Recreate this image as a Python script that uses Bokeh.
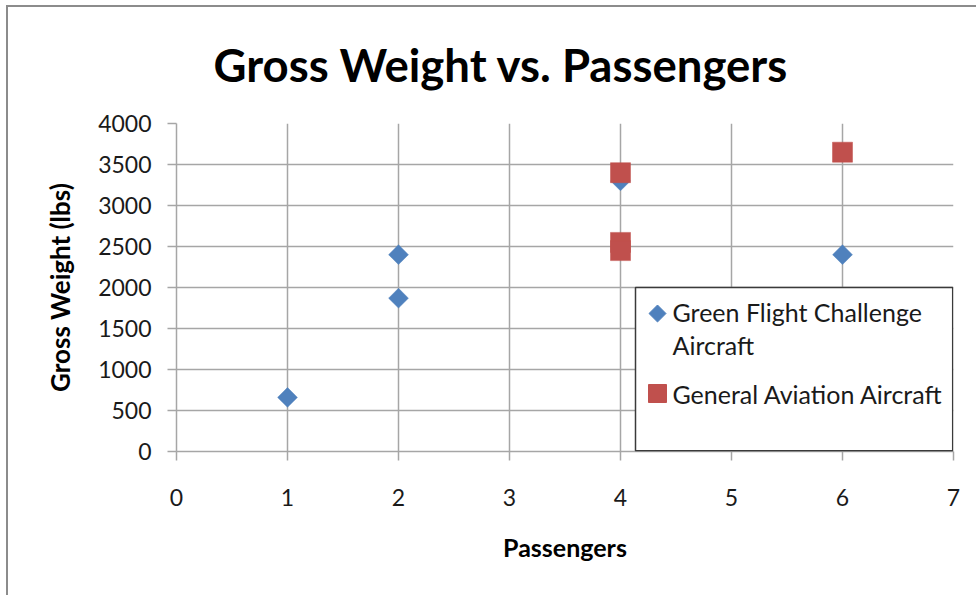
import math
from bokeh.plotting import figure
from bokeh.models import Range1d, Label, BoxAnnotation, FixedTicker
from bokeh.embed import file_html
from bokeh.resources import INLINE

# ---- data ----
gfc_passengers = [1, 2, 2, 4, 6]
gfc_weight = [660, 1870, 2400, 3300, 2400]
ga_passengers = [4, 4, 4, 6]
ga_weight = [3400, 2550, 2450, 3650]
x_ticks = [0, 1, 2, 3, 4, 5, 6, 7]
y_ticks = [0, 500, 1000, 1500, 2000, 2500, 3000, 3500, 4000]
series_names = ["Green Flight Challenge\nAircraft", "General Aviation Aircraft"]

BLUE = "#4F81BD"
RED = "#C0504D"
GRID = "#A6A6A6"
BORDER = "#8C8C8C"
FONT = "Lato"

FRAME_W = 777
FRAME_H = 328

p = figure(width=976, height=595, output_backend="svg", toolbar_location=None,
           x_range=Range1d(x_ticks[0], x_ticks[-1]), y_range=Range1d(y_ticks[0], y_ticks[-1]),
           min_border_left=176, min_border_right=23, min_border_top=123, min_border_bottom=144,
           title="Gross Weight vs. Passengers")
p.outline_line_color = None
p.background_fill_color = "white"
p.border_fill_color = "white"
p.border_fill_alpha = 0
# outer chart-area border (only its left and top edges fall inside the picture)
p.styles = {
    "background": (f"linear-gradient({BORDER}, {BORDER}) 6px 5px / 2px 700px no-repeat, "
                   f"linear-gradient({BORDER}, {BORDER}) 6px 5px / 1100px 2px no-repeat, white"),
}

p.title.text_font = FONT
p.title.text_font_size = "45.5px"
p.title.text_font_style = "bold"
p.title.text_color = "#000000"
p.title.align = "left"
p.title.offset = 37
p.title.standoff = 64

for ax in (p.xaxis[0], p.yaxis[0]):
    ax.axis_line_color = GRID
    ax.axis_line_width = 1.5
    ax.major_tick_line_color = GRID
    ax.major_tick_line_width = 1.5
    ax.major_tick_out = 9
    ax.major_tick_in = 0
    ax.minor_tick_line_color = None
    ax.major_label_text_font = FONT
    ax.major_label_text_font_size = "23px"
    ax.major_label_text_color = "#1A1A1A"
    ax.axis_label_text_font = FONT
    ax.axis_label_text_font_style = "bold"
    ax.axis_label_text_color = "#000000"

p.xaxis.ticker = FixedTicker(ticks=x_ticks)
p.yaxis.ticker = FixedTicker(ticks=y_ticks)
p.xaxis.axis_label = "Passengers"
p.yaxis.axis_label = "Gross Weight (lbs)"
p.xaxis.axis_label_text_font_size = "25px"
p.yaxis.axis_label_text_font_size = "26px"
p.xaxis.major_label_standoff = 28
p.yaxis.major_label_standoff = 16
p.xaxis.axis_label_standoff = 23
p.yaxis.axis_label_standoff = 19

for g in (p.xgrid[0], p.ygrid[0]):
    g.grid_line_color = GRID
    g.grid_line_width = 1.5
p.xgrid.ticker = FixedTicker(ticks=x_ticks)
p.ygrid.ticker = FixedTicker(ticks=y_ticks)

# data marks
p.scatter(gfc_passengers, gfc_weight, marker="square", angle=math.pi / 4, size=14,
          fill_color=BLUE, line_color=BLUE, line_width=0.5)
p.scatter(ga_passengers, ga_weight, marker="square", size=20,
          fill_color=RED, line_color=RED, line_width=0.5)

# legend (drawn manually to reproduce the boxed legend with a wrapped label)
p.extra_x_ranges = {"px": Range1d(0, FRAME_W)}
p.extra_y_ranges = {"px": Range1d(0, FRAME_H)}

box = BoxAnnotation(left=459, right=776.2, bottom=0.8, top=164,
                    left_units="screen", right_units="screen",
                    bottom_units="screen", top_units="screen",
                    fill_color="white", fill_alpha=1.0,
                    line_color="#3A3A3A", line_alpha=1.0, line_width=1.5, level="annotation")
p.add_layout(box)

p.scatter([481], [138], x_range_name="px", y_range_name="px", marker="square",
          angle=math.pi / 4, size=12, fill_color=BLUE, line_color=BLUE, level="overlay")
p.scatter([481], [58], x_range_name="px", y_range_name="px", marker="square",
          size=18, fill_color=RED, line_color=RED, level="overlay")

lines = series_names[0].split("\n")
for txt, yb in ((lines[0], 140), (lines[1], 107), (series_names[1], 58)):
    p.add_layout(Label(x=496, y=yb, x_units="screen", y_units="screen", text=txt,
                       text_font=FONT, text_font_size="25px", text_color="#1A1A1A",
                       text_baseline="alphabetic", text_align="left", level="overlay"))

open("out.html", "w").write(file_html(p, INLINE))
